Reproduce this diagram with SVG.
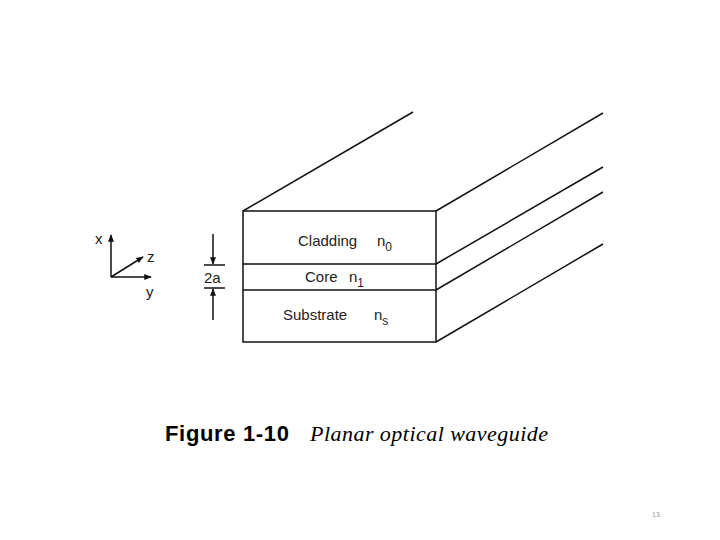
<svg xmlns="http://www.w3.org/2000/svg" width="720" height="540" viewBox="0 0 720 540">
<style>
.l{stroke:#111;fill:none;stroke-width:1.5}
.t{font-family:"Liberation Sans",Arial,sans-serif;font-size:15px;fill:#222}
</style>
<defs><marker id="a" viewBox="0 0 10 10" refX="9" refY="5" markerWidth="5" markerHeight="5" orient="auto"><path d="M0,1L10,5L0,9z" fill="#111"/></marker></defs>
<rect width="720" height="540" fill="#fff"/>
<g id="connectors">
<line class="l" x1="243" y1="211" x2="413" y2="112"/>
<line class="l" x1="436" y1="211" x2="603" y2="113"/>
<line class="l" x1="436" y1="264" x2="603" y2="167"/>
<line class="l" x1="436" y1="290" x2="603" y2="192"/>
<line class="l" x1="436" y1="342" x2="603" y2="244"/>
</g>
<g id="waveguide">
<rect class="l" x="243" y="211" width="193" height="131" stroke-width="2"/>
<line class="l" x1="243" y1="264" x2="436" y2="264"/>
<line class="l" x1="243" y1="290" x2="436" y2="290"/>
<text class="t" x="298" y="246">Cladding</text><text class="t" x="377" y="246">n<tspan font-size="12" dy="5">0</tspan></text>
<text class="t" x="305" y="282">Core</text><text class="t" x="349" y="282">n<tspan font-size="12" dy="5">1</tspan></text>
<text class="t" x="283" y="320">Substrate</text><text class="t" x="374" y="320">n<tspan font-size="12" dy="5">s</tspan></text>
</g>
<g id="axes">
<line class="l" x1="111" y1="277" x2="111" y2="235" marker-end="url(#a)"/>
<line class="l" x1="111" y1="277" x2="151" y2="277" marker-end="url(#a)"/>
<line class="l" x1="111" y1="277" x2="143" y2="257" marker-end="url(#a)"/>
<text class="t" x="95" y="244">x</text>
<text class="t" x="147" y="262">z</text>
<text class="t" x="146" y="297">y</text>
</g>
<g id="thickness">
<line class="l" x1="213" y1="234" x2="213" y2="264" marker-end="url(#a)"/>
<line class="l" x1="213" y1="320" x2="213" y2="289" marker-end="url(#a)"/>
<line class="l" x1="204" y1="265" x2="225" y2="265"/>
<line class="l" x1="204" y1="288" x2="225" y2="288"/>
<text class="t" x="204" y="283">2a</text>
</g>
<g id="caption">
<text x="165" y="441" font-family="Liberation Sans,Arial,sans-serif" font-weight="bold" font-size="22" textLength="124" fill="#000">Figure 1-10</text>
<text x="310" y="441" font-family="Liberation Serif,Times New Roman,serif" font-style="italic" font-size="22" textLength="238" fill="#000">Planar optical waveguide</text>
<text x="652" y="517" font-family="Liberation Sans,Arial,sans-serif" font-size="7" fill="#999">13</text>
</g>
</svg>
